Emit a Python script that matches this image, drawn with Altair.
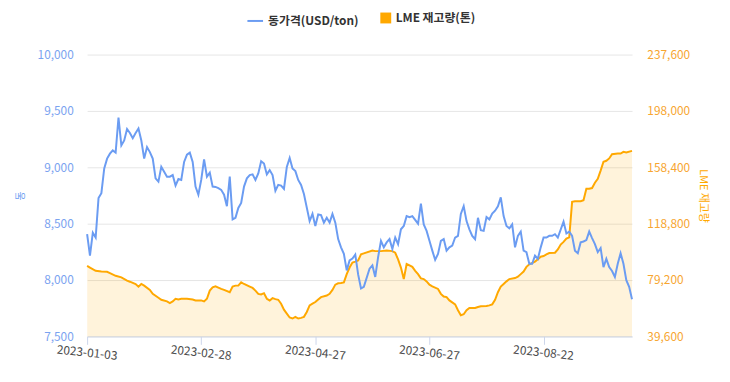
import altair as alt
import pandas as pd

# ---------------- data ----------------
tick_days = [0, 40, 80, 120, 160]
tick_labels = ["2023-01-03", "2023-02-28", "2023-04-27", "2023-06-27", "2023-08-22"]

left_ticks = [7500, 8000, 8500, 9000, 9500, 10000]
right_ticks = [39600, 79200, 118800, 158400, 198000, 237600]

price_name = "동가격(USD/ton)"
stock_name = "LME 재고량(톤)"

# trading-day index since 2023-01-03
price_days = [
    0, 1, 2, 3, 4, 5, 6, 7, 8, 9, 10, 11, 12, 13, 14, 15, 16, 17, 18, 19,
    20, 21, 22, 23, 24, 25, 26, 27, 28, 29, 30, 31, 32, 33, 34, 35, 36, 37, 38, 39,
    40, 41, 42, 43, 44, 45, 46, 47, 48, 49, 50, 51, 52, 53, 54, 55, 56, 57, 58, 59,
    60, 61, 62, 63, 64, 65, 66, 67, 68, 69, 70, 71, 72, 73, 74, 75, 76, 78, 79, 80,
    81, 82, 83, 84, 85, 86, 87, 88, 89, 90, 91, 92, 93, 94, 95, 96, 97, 99, 100, 101,
    102, 103, 104, 105, 106, 107, 108, 109, 110, 111, 112, 113, 114, 116, 117, 118, 119, 120, 121, 122,
    123, 124, 125, 126, 127, 128, 129, 130, 131, 132, 133, 134, 135, 136, 137, 138, 139, 140, 141, 142,
    143, 144, 145, 146, 147, 148, 149, 150, 151, 152, 153, 154, 155, 156, 157, 158, 159, 160, 161, 162,
    163, 164, 165, 167, 168, 169, 170, 171, 172, 173, 174, 175, 176, 177, 178, 179, 180, 181, 182, 183,
    184, 185, 186, 187, 188, 189, 190, 191,
]
price_vals = [
    8407, 8217, 8420, 8377, 8727, 8771, 8990, 9077, 9121, 9150, 9130, 9442, 9194, 9238, 9340, 9305, 9258, 9305, 9345, 9238,
    9077, 9179, 9135, 9077, 8902, 8873, 9004, 8960, 8917, 8917, 8931, 8838, 8896, 8888, 9048, 9112, 9130, 9048, 8829, 8757,
    8888, 9071, 8917, 8952, 8829, 8826, 8815, 8800, 8757, 8655, 8917, 8538, 8552, 8640, 8684, 8829, 8902, 8931, 8937, 8888,
    8946, 9054, 9033, 8937, 8975, 8931, 8792, 8844, 8838, 8809, 9004, 9083, 8990, 8966, 8888, 8844, 8763, 8523, 8587, 8480,
    8582, 8576, 8509, 8552, 8509, 8587, 8509, 8363, 8290, 8232, 8086, 8174, 8190, 8225, 8050, 7926, 7940, 8101, 8130, 8028,
    8203, 8348, 8290, 8334, 8363, 8276, 8377, 8319, 8450, 8480, 8567, 8558, 8567, 8500, 8678, 8494, 8436, 8348, 8261, 8179,
    8232, 8348, 8363, 8261, 8290, 8305, 8377, 8392, 8587, 8655, 8523, 8450, 8392, 8363, 8552, 8442, 8436, 8558, 8538, 8590,
    8615, 8655, 8733, 8567, 8480, 8459, 8494, 8290, 8392, 8430, 8261, 8247, 8144, 8144, 8217, 8188, 8290, 8377, 8377, 8392,
    8392, 8407, 8377, 8517, 8413, 8430, 8392, 8261, 8238, 8334, 8342, 8354, 8430, 8372, 8319, 8247, 8284, 8115, 8188, 8115,
    8080, 8028, 8144, 8238, 8144, 7999, 7940, 7830,
]

stock_days = [
    0, 1, 3, 5, 7, 8, 10, 12, 14, 15, 17, 18, 19, 20, 22, 23, 25, 26, 28, 29,
    30, 31, 32, 33, 35, 37, 38, 40, 41, 42, 43, 44, 45, 46, 47, 48, 50, 51, 52, 53,
    54, 55, 57, 58, 59, 60, 61, 62, 63, 64, 65, 66, 67, 68, 69, 70, 71, 72, 73, 74,
    75, 76, 77, 78, 79, 80, 81, 82, 84, 85, 86, 87, 88, 89, 90, 91, 92, 93, 94, 95,
    96, 97, 100, 101, 103, 105, 107, 108, 109, 110, 111, 112, 114, 115, 116, 117, 118, 119, 120, 121,
    123, 124, 125, 126, 127, 129, 130, 131, 132, 133, 134, 135, 136, 137, 138, 140, 141, 142, 143, 144,
    145, 146, 147, 148, 150, 151, 152, 153, 154, 155, 157, 158, 159, 160, 161, 162, 164, 165, 166, 167,
    168, 169, 170, 171, 173, 174, 175, 176, 177, 178, 179, 180, 181, 182, 183, 184, 186, 187, 188, 189,
    191,
]
stock_vals = [
    89130, 87975, 85665, 85205, 84975, 84050, 82200, 81050, 78740, 78045, 76430, 74580, 76430, 75275, 72270, 69500, 66730, 65345, 64190, 63035,
    64190, 66040, 65575, 66040, 66040, 65575, 64880, 64880, 64190, 66040, 71810, 74120, 74810, 73890, 72965, 72270, 70655, 74580, 75275, 75275,
    77585, 76430, 74580, 73660, 71810, 69500, 69040, 69960, 66040, 64880, 66500, 65810, 65345, 62575, 58420, 55650, 52880, 52190, 53345, 52190,
    52650, 53345, 56800, 61420, 62575, 63730, 65575, 67190, 68345, 69500, 72270, 75970, 76890, 77120, 77585, 83355, 87975, 91440, 92130, 93000,
    97210, 97900, 99980, 99520, 99520, 99980, 99520, 98365, 93750, 87975, 79890, 90500, 88440, 85665, 83355, 80355, 79890, 78275, 75970, 74810,
    72965, 69500, 67655, 67190, 64880, 62115, 57960, 54495, 55190, 57960, 59575, 59575, 59575, 60265, 60730, 60960, 61420, 62115, 65345, 70655,
    74580, 76430, 78275, 79890, 80585, 81510, 83355, 85205, 88440, 90280, 92130, 93750, 95600, 96055, 97210, 98135, 98365, 100675, 104140, 105985,
    108295, 109220, 134155, 134615, 134615, 135310, 143390, 143390, 143850, 147545, 150315, 156085, 162320, 163010, 164625, 167630, 168090, 168090, 169245, 168785,
    169940,
]

# ---------------- styling ----------------
BLUE = "#6b9cf2"
ORANGE = "#ffa800"
FONT = "Noto Sans CJK KR"

df_p = pd.DataFrame({"day": price_days, "price": price_vals, "series": price_name})
df_s = pd.DataFrame({"day": stock_days, "stock": stock_vals, "series": stock_name})

label_expr = " : ".join(
    f"datum.value == {d} ? '{l}'" for d, l in zip(tick_days, tick_labels)
) + " : ''"

x_enc = alt.X(
    "day:Q",
    scale=alt.Scale(domain=[0, 191], nice=False, zero=False),
    axis=alt.Axis(
        values=tick_days,
        labelExpr=label_expr,
        title=None,
        grid=False,
        domainColor="#ccd6eb",
        tickColor="#ccd6eb",
        tickSize=8,
        labelAngle=6,
        labelAlign="center",
        labelBaseline="top",
        labelPadding=3,
        labelFontSize=12,
        labelColor="#4d4d4d",
    ),
)

y_stock = alt.Y(
    "stock:Q",
    scale=alt.Scale(domain=[39600, 237600], nice=False, zero=False),
    axis=alt.Axis(
        orient="right",
        values=right_ticks,
        labelExpr="format(datum.value, ',.0f')",
        title="LME 재고량",
        titleColor=ORANGE,
        titleFontSize=11,
        titleFontWeight="normal",
        titlePadding=8,
        grid=False,
        domain=False,
        ticks=False,
        labelPadding=15,
        labelFontSize=12,
        labelColor="#f7a631",
    ),
)

y_price = alt.Y(
    "price:Q",
    scale=alt.Scale(domain=[7500, 10000], nice=False, zero=False),
    axis=alt.Axis(
        orient="left",
        values=left_ticks,
        labelExpr="format(datum.value, ',.0f')",
        title="동",
        titleColor=BLUE,
        titleFontSize=10,
        titleFontWeight="normal",
        titlePadding=12,
        grid=True,
        gridColor="#e6e6e6",
        domain=False,
        ticks=False,
        labelPadding=14,
        labelFontSize=12,
        labelColor="#7ba3f0",
    ),
)

stock_area = alt.Chart(df_s).mark_area(fillOpacity=0.14, clip=True).encode(
    x=x_enc,
    y=y_stock,
    fill=alt.Fill(
        "series:N",
        scale=alt.Scale(domain=[stock_name], range=[ORANGE]),
        legend=alt.Legend(
            orient="none",
            legendX=296,
            legendY=-43,
            title=None,
            symbolType="square",
            symbolSize=121,
            symbolOpacity=1,
            symbolStrokeWidth=0,
            labelFont=FONT,
            labelFontSize=12,
            labelFontWeight="bold",
            labelColor="#333333",
            padding=0,
        ),
    ),
)

stock_line = alt.Chart(df_s).mark_line(color=ORANGE, strokeWidth=2).encode(
    x=x_enc,
    y=y_stock,
)

price_line = alt.Chart(df_p).mark_line(strokeWidth=2).encode(
    x=x_enc,
    y=y_price,
    stroke=alt.Stroke(
        "series:N",
        scale=alt.Scale(domain=[price_name], range=[BLUE]),
        legend=alt.Legend(
            orient="none",
            legendX=161,
            legendY=-43,
            title=None,
            symbolType="stroke",
            symbolSize=250,
            symbolStrokeWidth=2,
            labelFont=FONT,
            labelFontSize=12,
            labelFontWeight="bold",
            labelColor="#333333",
            padding=0,
        ),
    ),
)

chart = (
    alt.layer(alt.layer(stock_area, stock_line), price_line)
    .resolve_scale(y="independent")
    .properties(
        width=551,
        height=285,
        autosize=alt.AutoSizeParams(type="none"),
        padding={"left": 80, "top": 45, "right": 91, "bottom": 44},
        background="white",
    )
    .configure(font=FONT)
    .configure_view(stroke=None)
)

chart.save("out.html", embed_options={"renderer": "svg", "actions": False})
